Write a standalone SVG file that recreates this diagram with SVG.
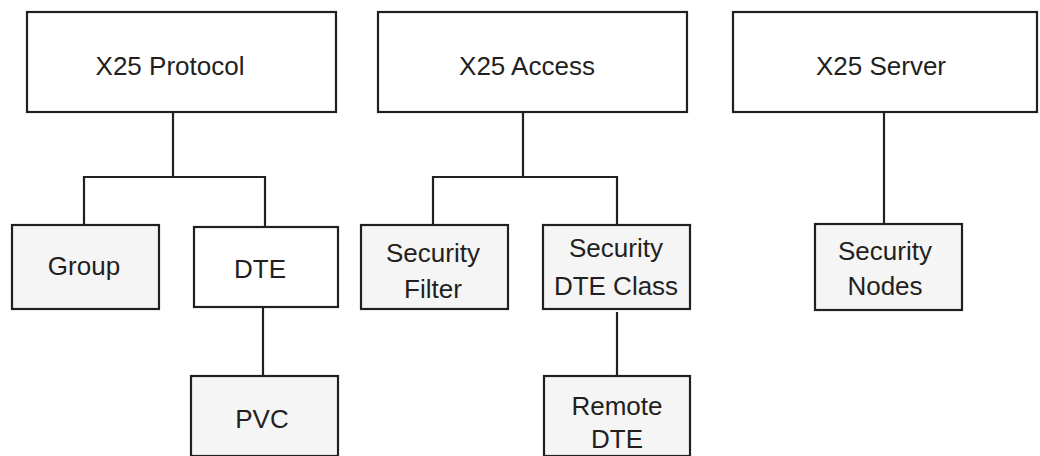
<svg xmlns="http://www.w3.org/2000/svg" width="1040" height="456" viewBox="0 0 1040 456">
<style>
.box{stroke:#231f20;stroke-width:2.2}
.w{fill:#ffffff}
.g{fill:#f5f5f5}
.c{fill:none;stroke:#231f20;stroke-width:2.2}
text{font-family:"Liberation Sans",Arial,sans-serif;font-size:26px;fill:#231f20;text-anchor:middle}
</style>
<rect width="1040" height="456" fill="#ffffff"/>
<g id="connectors">
<path class="c" d="M173,112 V177 M84,177 H265 M84,176 V225 M265,176 V227"/>
<path class="c" d="M263,307 V377"/>
<path class="c" d="M523,112 V177 M433,177 H617 M433,176 V225 M617,176 V225"/>
<path class="c" d="M617,312 V377"/>
<path class="c" d="M884,112 V225"/>
</g>
<g id="x25protocol"><rect class="box w" x="27" y="12" width="309" height="100"/><text x="170" y="75">X25 Protocol</text></g>
<g id="x25access"><rect class="box w" x="378" y="12" width="309" height="100"/><text x="527" y="75">X25 Access</text></g>
<g id="x25server"><rect class="box w" x="733" y="12" width="304" height="100"/><text x="881" y="75">X25 Server</text></g>
<g id="group"><rect class="box g" x="12" y="225" width="147" height="84"/><text x="84" y="275">Group</text></g>
<g id="dte"><rect class="box w" x="194" y="227" width="144" height="80"/><text x="260" y="278">DTE</text></g>
<g id="pvc"><rect class="box g" x="191" y="376" width="147" height="80"/><text x="262" y="428">PVC</text></g>
<g id="securityfilter"><rect class="box g" x="361" y="225" width="147" height="84"/><text x="433" y="262">Security</text><text x="433" y="298">Filter</text></g>
<g id="securitydteclass"><rect class="box g" x="543" y="225" width="147" height="84"/><text x="616" y="257">Security</text><text x="616" y="295">DTE Class</text></g>
<g id="remotedte"><rect class="box g" x="544" y="376" width="146" height="80"/><text x="617" y="415">Remote</text><text x="617" y="448">DTE</text></g>
<g id="securitynodes"><rect class="box g" x="815" y="224" width="147" height="86"/><text x="885" y="260">Security</text><text x="885" y="295">Nodes</text></g>
</svg>
